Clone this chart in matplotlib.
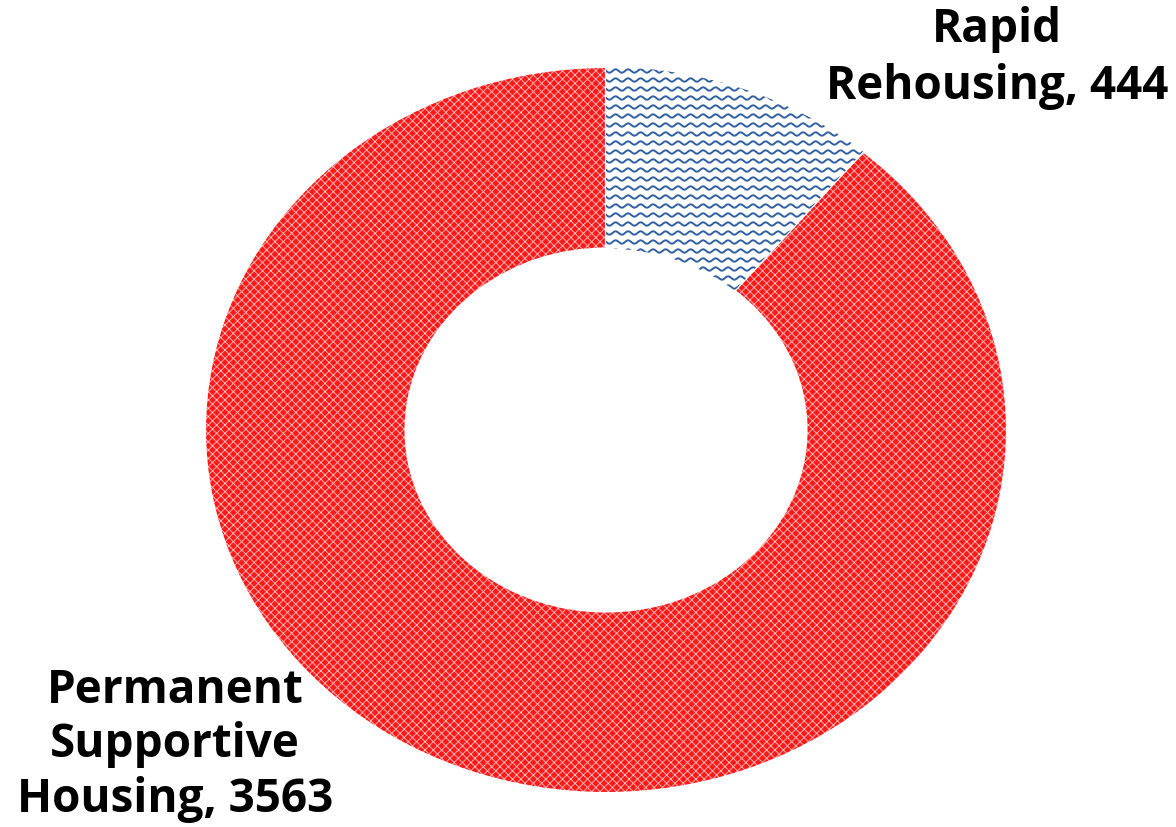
import numpy as np
import matplotlib
matplotlib.use("Agg")
import matplotlib.pyplot as plt
from matplotlib.transforms import IdentityTransform

# data
labels = ["Rapid\nRehousing, 444", "Permanent\nSupportive\nHousing, 3563"]
values = [444, 3563]

plt.rcParams['hatch.linewidth'] = 0.6

fig = plt.figure(figsize=(11.76, 8.27), dpi=100)
ax = fig.add_axes([205 / 1176, 34 / 827, 802 / 1176, 726 / 827])

wedges, _ = ax.pie(values, startangle=90, counterclock=False, radius=1,
                   wedgeprops=dict(width=0.5, linewidth=0))
ax.set_aspect('auto')
ax.set_xlim(-1, 1)
ax.set_ylim(-1, 1)

# red slice: dense cross pattern
wedges[1].set_facecolor('#ff1a1a')
wedges[1].set_edgecolor('#ffc4c4')
wedges[1].set_hatch('xxxx')

# blue slice: white with wavy lines clipped to the wedge
wedges[0].set_facecolor('white')
wedges[0].set_edgecolor('white')
xs = np.arange(0, 1176, 0.5)
for y0 in np.arange(0, 827, 9.0):
    line = plt.Line2D(xs, y0 + 1.7 * np.sin(2 * np.pi * xs / 12.5),
                      transform=IdentityTransform(), color='#3060a0',
                      linewidth=1.4)
    fig.add_artist(line)
    line.set_clip_path(wedges[0])

# white separators
ax.pie(values, startangle=90, counterclock=False, radius=1,
       wedgeprops=dict(width=0.5, facecolor='none', edgecolor='white', linewidth=1.5))
ax.set_aspect('auto')
ax.set_xlim(-1, 1)
ax.set_ylim(-1, 1)

fig.text(997 / 1176, 1 - 58 / 827, labels[0], ha='center', va='center',
         fontsize=33, fontweight='bold', family='Open Sans', linespacing=1.27)
fig.text(175 / 1176, 1 - 745 / 827, labels[1], ha='center', va='center',
         fontsize=33, fontweight='bold', family='Open Sans', linespacing=1.2)

fig.savefig('out.png', dpi=100)
